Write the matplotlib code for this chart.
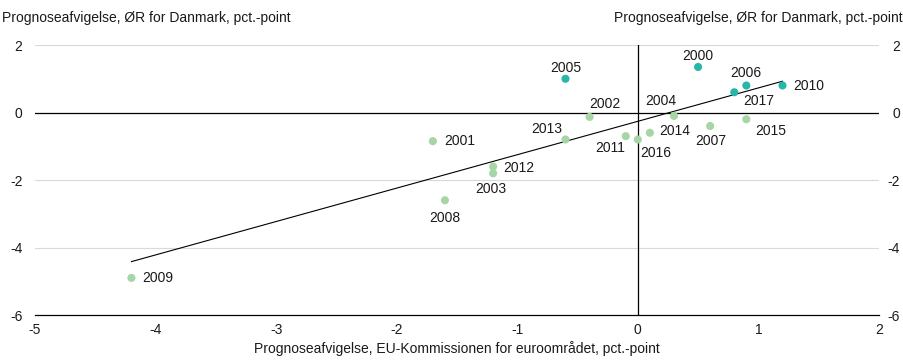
import numpy as np
import matplotlib.pyplot as plt

plt.rcParams['font.family'] = ['Liberation Sans', 'DejaVu Sans']
plt.rcParams['axes.unicode_minus'] = False

# Data: forecast errors (EU Commission euro area vs. Danish economic council)
years = ['2000', '2001', '2002', '2003', '2004', '2005', '2006', '2007', '2008',
         '2009', '2010', '2011', '2012', '2013', '2014', '2015', '2016', '2017']
eu_err = [0.5, -1.7, -0.4, -1.2, 0.3, -0.6, 0.9, 0.6, -1.6,
          -4.2, 1.2, -0.1, -1.2, -0.6, 0.1, 0.9, 0.0, 0.8]
dk_err = [1.35, -0.85, -0.13, -1.8, -0.1, 1.0, 0.8, -0.4, -2.6,
          -4.9, 0.8, -0.7, -1.6, -0.8, -0.6, -0.2, -0.8, 0.6]

# label offsets in pixels (dx, dy, ha)
offsets = {
    '2000': (0, 11, 'center'), '2001': (11, 0, 'left'), '2002': (15, 13, 'center'),
    '2003': (-2, -16, 'center'), '2004': (-13, 15, 'center'), '2005': (0, 11, 'center'),
    '2006': (-1, 13, 'center'), '2007': (1, -15, 'center'), '2008': (0, -18, 'center'),
    '2009': (11, 0, 'left'), '2010': (11, 0, 'left'), '2011': (-16, -12, 'center'),
    '2012': (10, -1, 'left'), '2013': (-19, 11, 'center'), '2014': (9, 2, 'left'),
    '2015': (24, -12, 'center'), '2016': (18, -13, 'center'), '2017': (24, -9, 'center'),
}

teal = '#27b6aa'
green = '#a6d5a6'

fig = plt.figure(figsize=(9.04, 3.61), dpi=100)
ax = fig.add_axes([0.0387, 0.1274, 0.9336, 0.7479])

x = np.array(eu_err)
y = np.array(dk_err)
cols = [teal if v > 0 else green for v in y]

# grid
for g in [2, -2, -4]:
    ax.axhline(g, color='#d9d9d9', lw=0.8, zorder=0)
ax.axhline(0, color='black', lw=0.9, zorder=1)
ax.axvline(0, color='black', lw=0.9, zorder=1)

# trend line
k, m = np.polyfit(x, y, 1)
xs = np.array([x.min(), x.max()])
ax.plot(xs, k * xs + m, color='black', lw=0.8, zorder=2)

ax.scatter(x, y, s=34, c=cols, edgecolors='none', zorder=3)

for yr, xi, yi in zip(years, x, y):
    dx, dy, ha = offsets[yr]
    ax.annotate(yr, (xi, yi), xytext=(dx, dy), textcoords='offset pixels',
                ha=ha, va='center', fontsize=10, color='#1a1a1a')

ax.set_xlim(-5, 2)
ax.set_ylim(-6, 2)
ax.set_xticks(range(-5, 3))
ax.set_yticks(range(-6, 3, 2))
ax.tick_params(axis='both', length=0, labelsize=10, colors='#1a1a1a')
ax.tick_params(axis='y', pad=9)
ax.tick_params(axis='x', pad=6)

# right-hand axis labels, right aligned at the figure edge
ax2 = ax.twinx()
ax2.set_ylim(-6, 2)
ax2.set_yticks(range(-6, 3, 2))
ax2.tick_params(axis='y', length=0, labelsize=10, colors='#1a1a1a', pad=15)
for lab in ax2.get_yticklabels():
    lab.set_horizontalalignment('right')

for a in (ax, ax2):
    for s in ['top', 'left', 'right']:
        a.spines[s].set_visible(False)
ax.spines['bottom'].set_color('black')
ax.spines['bottom'].set_linewidth(0.9)
ax2.spines['bottom'].set_visible(False)

fig.text(0.002, 0.95, 'Prognoseafvigelse, ØR for Danmark, pct.-point',
         ha='left', va='center', fontsize=10, color='#1a1a1a')
fig.text(0.998, 0.95, 'Prognoseafvigelse, ØR for Danmark, pct.-point',
         ha='right', va='center', fontsize=10, color='#1a1a1a')
ax.set_xlabel('Prognoseafvigelse, EU-Kommissionen for euroområdet, pct.-point',
              fontsize=10, color='#1a1a1a', labelpad=3)

fig.savefig('out.png', dpi=100)
